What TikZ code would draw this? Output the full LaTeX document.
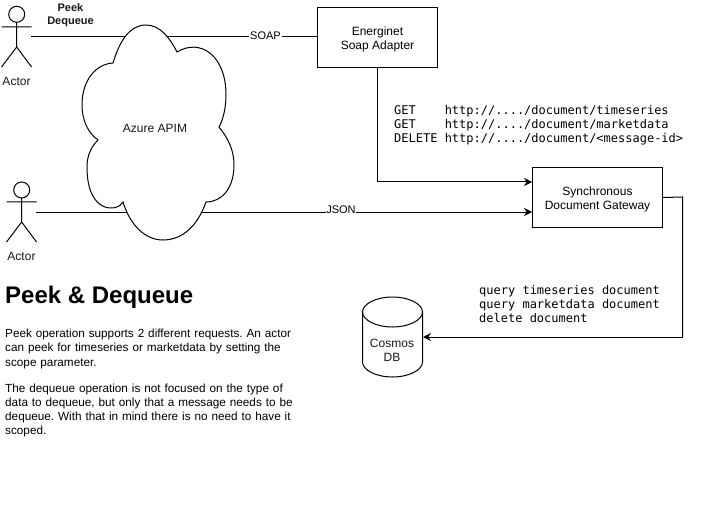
\documentclass[tikz,border=0pt]{standalone}
\usepackage{fontspec}
\setmainfont{Liberation Sans}
\setmonofont{DejaVu Sans Mono}
\usetikzlibrary{arrows.meta}
\tikzset{
  lbl/.style={font=\fontsize{12}{14}\selectfont,align=center,inner sep=0pt,text=black!90},
  boxn/.style={draw,line width=1pt,fill=white,minimum width=120pt,minimum height=60pt,inner sep=0pt,align=center,font=\fontsize{12}{14}\selectfont},
  conn/.style={line width=1pt},
  arr/.style={conn,-{Stealth[length=8pt,width=8pt]}},
  edgelbl/.style={font=\fontsize{11}{13}\selectfont,fill=white,inner sep=0.8pt},
  monotxt/.style={font=\ttfamily\fontsize{12}{14}\selectfont,align=left,inner sep=0pt,anchor=north west},
  actorline/.style={line width=1pt},
  paragraph/.style={font=\fontsize{11.75}{14.15}\selectfont,align=left,inner sep=0pt,anchor=north west,text width=300pt}
}
\begin{document}
\begin{tikzpicture}[x=1pt,y=-1pt]
\useasboundingbox (0,0) rectangle (718,508);
\fill[white] (0,0) rectangle (718,508);
% free ends of connectors
\coordinate (a1) at (31,37);
\coordinate (a2) at (36,212);
\coordinate (s1) at (377.5,182);
\coordinate (g1) at (682.5,197);
\coordinate (g2) at (682.5,337);
% boxes
\node[boxn] (soap) at (377.5,37.5) {\rule{0pt}{13pt}Energinet\\Soap Adapter};
\node[boxn,minimum width=130pt] (gw) at (597.5,197.5) {\rule{0pt}{12pt}Synchronous\\Document Gateway};
\coordinate (gwsoap) at (gw.west |- s1);
\coordinate (gwjson) at (gw.west |- a2);
% connectors
\draw[conn] (a1) -- (a1 -| soap.west);
\draw[arr] (a2) -- (gwjson);
\draw[arr] (soap.south) -- (s1) -- (gwsoap);
\draw[conn] (gw.east) -- (g1) -- (g2);
% cloud
\draw[line width=1pt,fill=white] (113,63)
  .. controls (120,40) and (130,25) .. (146,25)
  .. controls (160,25) and (170,38) .. (177,52)
  .. controls (200,38) and (226,55) .. (226,95)
  .. controls (226,108) and (223,120) .. (219,127)
  .. controls (228,138) and (234,150) .. (234,165)
  .. controls (234,188) and (222,202) .. (206,202)
  .. controls (198,225) and (183,240) .. (163,240)
  .. controls (145,240) and (130,225) .. (123,202)
  .. controls (118,212) and (87,215) .. (87,167)
  .. controls (87,157) and (90,148) .. (98,140)
  .. controls (88,133) and (82,120) .. (82,105)
  .. controls (82,80) and (96,64) .. (113,63) -- cycle;
\node[lbl] (apim) at (155,128) {Azure APIM};
% edge labels
\node[edgelbl] (soaplbl) at (265.5,35.5) {SOAP};
\node[edgelbl] (jsonlbl) at (341,210) {JSON};
% actor 1
\draw[actorline] (16.7,14.3) circle (8);
\draw[actorline] (16.7,22.3) -- (16.7,47) (1.5,27) -- (31.5,27) (1.5,67) -- (16.7,47) -- (31.5,67);
\node[lbl] (actor1) at (16.5,81) {Actor};
\node[lbl,font=\bfseries\fontsize{11}{13}\selectfont] (ops) at (70.5,15) {Peek\\Dequeue};
% actor 2
\draw[actorline] (21.7,190) circle (8);
\draw[actorline] (21.7,198) -- (21.7,222) (6.5,202) -- (36.5,202) (6.5,242) -- (21.7,222) -- (36.5,242);
\node[lbl] (actor2) at (21.5,256) {Actor};
% heading and text
\node[inner sep=0pt,anchor=west,font=\bfseries\fontsize{24}{28}\selectfont] (head) at (5,297) {Peek \& Dequeue};
\node[paragraph] (body) at (5,329) {\frenchspacing Peek operation supports 2 different requests. An actor\\can peek for timeseries or marketdata by setting the\\scope parameter.\\[12pt]The dequeue operation is not focused on the type of\\data to dequeue, but only that a message needs to be\\dequeue. With that in mind there is no need to have it\\scoped.};
% mono text
\node[monotxt] (urls) at (394,105.5) {GET\ \ \ \ http://..../document/timeseries\\GET\ \ \ \ http://..../document/marketdata\\DELETE http://..../document/<message-id>};
\node[monotxt] (q) at (479,285.5) {query timeseries document\\query marketdata document\\delete document};
% cylinder
\draw[line width=1pt,fill=white] (362.5,312)
  .. controls (362.5,304) and (376,297) .. (392.5,297)
  .. controls (409,297) and (422.5,304) .. (422.5,312)
  -- (422.5,362)
  .. controls (422.5,370) and (409,377) .. (392.5,377)
  .. controls (376,377) and (362.5,370) .. (362.5,362) -- cycle;
\draw[line width=1pt] (362.5,312)
  .. controls (362.5,320) and (376,327) .. (392.5,327)
  .. controls (409,327) and (422.5,320) .. (422.5,312);
\coordinate (cyl) at (423,337);
\node[lbl] (cosmos) at (392,350.5) {Cosmos\\DB};
\draw[arr] (g2) -- (cyl);
\end{tikzpicture}
\end{document}
